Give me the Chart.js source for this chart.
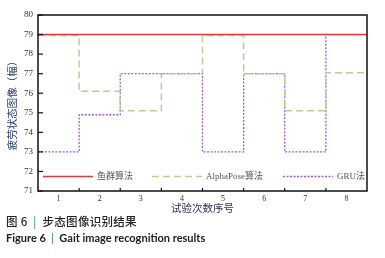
<!DOCTYPE html>
<html><head><meta charset="utf-8">
<script src="https://cdn.jsdelivr.net/npm/chart.js@4/dist/chart.umd.min.js"></script>
<style>
html,body{margin:0;padding:0;background:#fff;width:385px;height:258px;overflow:hidden}
#wrap{position:relative;width:385px;height:258px}
#c{position:absolute;left:0;top:0}
.cap1{position:absolute;left:6px;top:213px;font-family:"Noto Sans CJK SC";font-weight:500;font-size:11.5px;letter-spacing:0.3px;line-height:16px;color:#222;white-space:nowrap}
.cap2{position:absolute;left:6px;top:231px;font-family:Lato,"Open Sans",sans-serif;font-weight:bold;font-size:11px;line-height:14px;color:#222;white-space:nowrap}
.bar{color:#2a6fb8;font-weight:normal}
</style></head>
<body><div id="wrap">
<canvas id="c" width="385" height="214"></canvas>
<div class="cap1">图 6&nbsp;&nbsp;<span class="bar">|</span>&nbsp;&nbsp;步态图像识别结果</div>
<div class="cap2">Figure 6&nbsp;&nbsp;<span class="bar">|</span>&nbsp;&nbsp;Gait image recognition results</div>
</div>
<script>
const categories = ['1','2','3','4','5','6','7','8'];
const seriesNames = ['鱼群算法','AlphaPose算法','GRU法'];
const fishValues  = [79, 79, 79, 79, 79, 79, 79, 79];
const alphaValues = [78.95, 76.1, 75.1, 77, 78.95, 77, 75.1, 77.05];
const gruValues   = [73, 74.9, 77, 77, 73, 77, 73, 79];
const yTicks = [71, 72, 73, 74, 75, 76, 77, 78, 79, 80];

const SERIF = '"Liberation Serif","Noto Sans CJK SC"';

function toSteps(values){
  const pts = values.map((v,i)=>({x:i+0.5, y:v}));
  pts.push({x:values.length+0.5, y:values[values.length-1]});
  return pts;
}

const legendStarts = [43, 152, 283];

const framePlugin = {
  id:'frame',
  afterDraw(chart){
    const {ctx, chartArea:a, scales} = chart;
    ctx.save();
    ctx.strokeStyle = '#111';
    ctx.lineWidth = 1.5;
    ctx.strokeRect(a.left, a.top, a.right-a.left, a.bottom-a.top);
    ctx.lineWidth = 1.2;
    yTicks.forEach(v=>{
      const y = scales.y.getPixelForValue(v);
      ctx.beginPath(); ctx.moveTo(a.left, y); ctx.lineTo(a.left+5, y); ctx.stroke();
    });
    for(let i=1;i<categories.length;i++){
      const x = scales.x.getPixelForValue(i+0.5);
      ctx.beginPath(); ctx.moveTo(x, a.bottom); ctx.lineTo(x, a.bottom-3); ctx.stroke();
    }
    ctx.restore();
  },
  afterDatasetsDraw(chart){
    const {ctx, chartArea:a} = chart;
    const y = a.bottom - 14.5;
    ctx.save();
    chart.data.datasets.forEach((ds,i)=>{
      const x0 = legendStarts[i];
      ctx.strokeStyle = ds.borderColor;
      ctx.lineWidth = ds.borderWidth;
      ctx.setLineDash(ds.borderDash || []);
      ctx.beginPath(); ctx.moveTo(x0, y); ctx.lineTo(x0+50, y); ctx.stroke();
      ctx.setLineDash([]);
      ctx.fillStyle = '#555';
      ctx.font = '9px ' + SERIF;
      ctx.textBaseline = 'middle';
      ctx.fillText(ds.label, x0+54, y);
    });
    ctx.restore();
  }
};

new Chart(document.getElementById('c'), {
  type:'line',
  data:{
    datasets:[
      {label:seriesNames[0], data:toSteps(fishValues), borderColor:'#e0393e', borderWidth:1.4, stepped:true, pointRadius:0, fill:false},
      {label:seriesNames[1], data:toSteps(alphaValues), borderColor:'#c3c993', borderWidth:1.5, borderDash:[7,4], stepped:true, pointRadius:0, fill:false},
      {label:seriesNames[2], data:toSteps(gruValues), borderColor:'#9460cc', borderWidth:1.3, borderDash:[2,1.5], stepped:true, pointRadius:0, fill:false}
    ]
  },
  options:{
    responsive:false, animation:false, devicePixelRatio:1,
    layout:{padding:{top:15, right:18, left:0, bottom:0}},
    plugins:{legend:{display:false}, tooltip:{enabled:false}},
    scales:{
      x:{
        type:'linear', min:0.5, max:8.5,
        afterBuildTicks(s){ s.ticks = categories.map((c,i)=>({value:i+1})); },
        afterFit(s){ s.height = 23; },
        grid:{display:false, drawTicks:false},
        border:{display:false},
        ticks:{autoSkip:false, padding:3, color:'#333', font:{family:SERIF, size:8},
          callback:(v)=>categories[Math.round(v)-1]},
        title:{display:true, text:'试验次数序号', color:'#2b3350', font:{family:'"Noto Sans CJK SC"', size:10.5}, padding:{top:0,bottom:0}}
      },
      y:{
        min:71, max:80,
        afterBuildTicks(s){ s.ticks = yTicks.map(v=>({value:v})); },
        afterFit(s){ s.width = 38; },
        grid:{display:false, drawTicks:false},
        border:{display:false},
        ticks:{padding:5, color:'#333', font:{family:SERIF, size:9}},
        title:{display:true, text:'疲劳状态图像（幅）', color:'#2b3a6b', font:{family:'"Noto Sans CJK SC"', size:10.5}, padding:{top:6,bottom:0}}
      }
    }
  },
  plugins:[framePlugin]
});
</script>
</body></html>
